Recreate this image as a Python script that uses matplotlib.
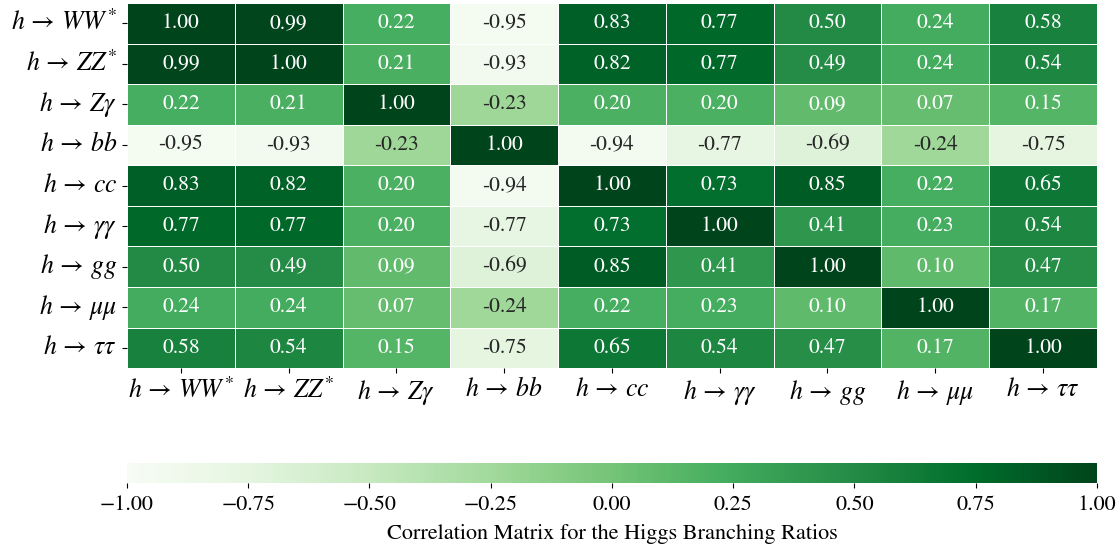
import numpy as np
import matplotlib
matplotlib.use("Agg")
import matplotlib.pyplot as plt
import seaborn as sns

plt.rcParams['font.family'] = ['STIXGeneral', 'DejaVu Serif']
plt.rcParams['mathtext.fontset'] = 'stix'

# canales de decaimiento
canales = [r"$h \,\rightarrow\, WW^{*}$", r"$h \,\rightarrow\, ZZ^{*}$", r"$h \,\rightarrow\, Z\gamma$",
           r"$h \,\rightarrow\, bb$", r"$h \,\rightarrow\, cc$", r"$h \,\rightarrow\, \gamma\gamma$",
           r"$h \,\rightarrow\, gg$", r"$h \,\rightarrow\, \mu\mu$", r"$h \,\rightarrow\, \tau\tau$"]

fila_ww = [1.00, 0.99, 0.22, -0.95, 0.83, 0.77, 0.50, 0.24, 0.58]
fila_zz = [0.99, 1.00, 0.21, -0.93, 0.82, 0.77, 0.49, 0.24, 0.54]
fila_za = [0.22, 0.21, 1.00, -0.23, 0.20, 0.20, 0.09, 0.07, 0.15]
fila_bb = [-0.95, -0.93, -0.23, 1.00, -0.94, -0.77, -0.69, -0.24, -0.75]
fila_cc = [0.83, 0.82, 0.20, -0.94, 1.00, 0.73, 0.85, 0.22, 0.65]
fila_aa = [0.77, 0.77, 0.20, -0.77, 0.73, 1.00, 0.41, 0.23, 0.54]
fila_gg = [0.50, 0.49, 0.09, -0.69, 0.85, 0.41, 1.00, 0.10, 0.47]
fila_mm = [0.24, 0.24, 0.07, -0.24, 0.22, 0.23, 0.10, 1.00, 0.17]
fila_tt = [0.58, 0.54, 0.15, -0.75, 0.65, 0.54, 0.47, 0.17, 1.00]

corr = np.array([fila_ww, fila_zz, fila_za, fila_bb, fila_cc,
                 fila_aa, fila_gg, fila_mm, fila_tt])

fig = plt.figure(figsize=(11.17, 5.47), dpi=100)
ax = fig.add_axes([0.1137, 0.327, 0.8683, 0.6675])
cax = fig.add_axes([0.1137, 0.117, 0.8683, 0.0366])

sns.heatmap(corr, ax=ax, cbar_ax=cax, cmap="Greens", vmin=-1, vmax=1,
            annot=True, fmt=".2f", annot_kws={"fontsize": 15.5},
            linewidths=0.6, linecolor="white",
            xticklabels=canales, yticklabels=canales,
            cbar_kws={"orientation": "horizontal"})

ax.tick_params(axis="x", labelsize=18.5, rotation=0)
ax.tick_params(axis="y", labelsize=18.5, rotation=0)

cax.tick_params(labelsize=16, pad=5)
cax.set_xlabel("Correlation Matrix for the Higgs Branching Ratios", fontsize=16, labelpad=7)

fig.savefig("out.png", dpi=100)
